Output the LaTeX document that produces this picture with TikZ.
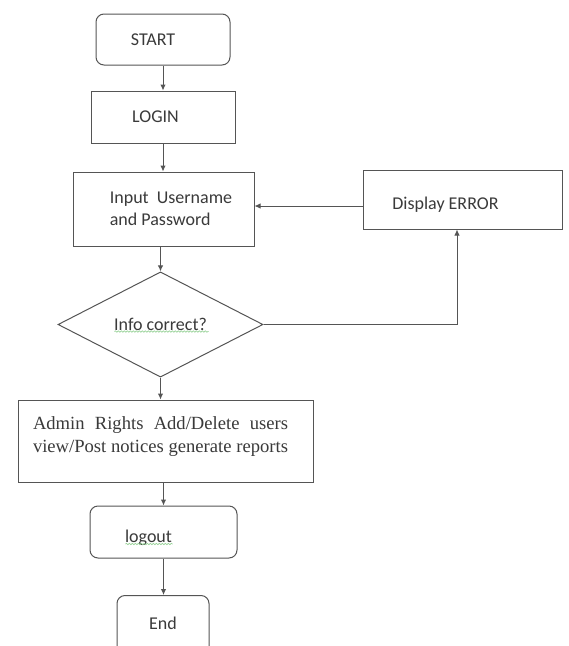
\documentclass[tikz,border=0pt]{standalone}
\usepackage{fontspec}
\setmainfont{Carlito}
\newfontfamily\adminfont{Liberation Serif}
\usetikzlibrary{shapes.geometric,arrows.meta,decorations.pathmorphing}
\definecolor{linec}{HTML}{555555}
\definecolor{textc}{HTML}{3A3A3A}
\definecolor{squig}{HTML}{9AD39A}
\tikzset{
  box/.style={draw=linec, line width=1pt, inner sep=0pt, text=textc, font=\fontsize{18}{21}\selectfont},
  rbox/.style={box, rounded corners=8pt},
  dia/.style={draw=linec, line width=1pt, diamond, inner sep=0pt, text=textc, font=\fontsize{18}{21}\selectfont},
  arr/.style={draw=linec, line width=1pt, -{Latex[length=6pt,width=5.5pt]}},
  sq/.style={draw=squig, line width=0.7pt, decorate, decoration={snake, amplitude=0.7pt, segment length=3pt}}
}
\begin{document}
\begin{tikzpicture}[x=1pt,y=-1pt]
\useasboundingbox[fill=white] (0,0) rectangle (569,646);
\node[rbox, minimum width=134pt, minimum height=51pt] (start) at (163,39.5) {START\hspace*{20pt}\null};
\node[box, minimum width=144pt, minimum height=52pt] (login) at (163,117) {LOGIN\hspace*{15pt}\null};
\node[box, minimum width=181pt, minimum height=74pt, align=left] (input) at (163.5,209) {\hspace*{15pt}Input\ \ Username\\[1pt]\hspace*{15pt}and Password};
\node[box, minimum width=199pt, minimum height=59pt] (err) at (462.5,199.5) {\raisebox{-5pt}[\height][\depth]{Display ERROR}\hspace*{34pt}\null};
\node[dia, minimum width=205pt, minimum height=105pt] (dec) at (160.5,324.5) {Info correct?};
\node[box, minimum width=295pt, minimum height=82pt, font=\adminfont\fontsize{18.6}{23}\selectfont] (admin) at (165.5,441) {\raisebox{4pt}[\height][\depth]{\parbox{255pt}{\makebox[255pt][s]{Admin Rights Add/Delete users}\\\makebox[255pt][s]{view/Post notices generate reports}}}\hspace*{10pt}\null};
\node[rbox, minimum width=147pt, minimum height=52pt] (logout) at (163.5,532) {\raisebox{-6pt}[\height][\depth]{logout}\hspace*{30pt}\null};
\node[rbox, minimum width=92pt, minimum height=80pt, anchor=north] (end) at (163,595) {};
\node[text=textc, font=\fontsize{18}{21}\selectfont] (endt) at (end.north |- 0,623) {End};
% spell-check squiggles
\draw[sq] ([xshift=-46pt,yshift=-7pt]dec.center) -- ([xshift=48pt,yshift=-7pt]dec.center);
\draw[sq] ([xshift=-38pt,yshift=-12pt]logout.center) -- ([xshift=9pt,yshift=-12pt]logout.center);
% connectors
\draw[arr] (start.south) -- (login.north);
\draw[arr] (login.south) -- (login.south |- input.north);
\draw[arr] (input.south -| dec.north) -- (dec.north);
\draw[arr] (dec.south) -- (dec.south |- admin.north);
\draw[arr] (admin.south -| logout.north) -- (logout.north);
\draw[arr] (logout.south) -- (logout.south |- end.north);
\draw[arr] (dec.east) -| ([xshift=-5.5pt]err.south);
\draw[arr] ([yshift=-6.5pt]err.west) coordinate (e1) -- (input.east |- e1);
\end{tikzpicture}
\end{document}
